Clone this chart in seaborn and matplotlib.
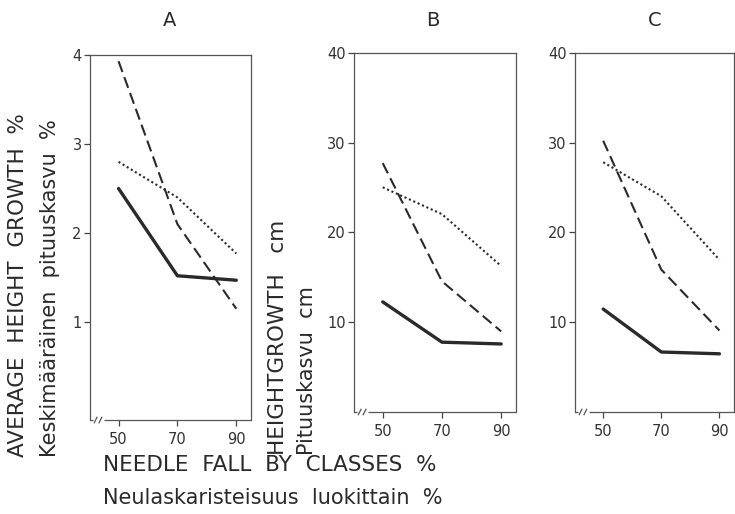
import matplotlib
matplotlib.use("Agg")
import matplotlib.pyplot as plt
import seaborn as sns
import pandas as pd

# ---- data ----
needle_fall = [50, 70, 90]
panels = ["A", "B", "C"]

a_solid = [2.50, 1.52, 1.47]
a_dashed = [3.93, 2.10, 1.15]
a_dotted = [2.80, 2.40, 1.77]

b_solid = [12.2, 7.7, 7.5]
b_dashed = [27.7, 14.5, 8.9]
b_dotted = [25.0, 22.0, 16.2]

c_solid = [11.4, 6.6, 6.4]
c_dashed = [30.2, 15.8, 9.0]
c_dotted = [27.8, 24.0, 16.9]

a_yticks = [1, 2, 3, 4]
bc_yticks = [10, 20, 30, 40]
xticks = [50, 70, 90]

sns.set_theme(style="white")
plt.rcParams["font.family"] = ["DejaVu Sans"]

W, H = 735, 514
fig = plt.figure(figsize=(W / 100, H / 100), dpi=100)

def box(l, r, t, b):
    return [l / W, 1 - b / H, (r - l) / W, (b - t) / H]

axA = fig.add_axes(box(90, 251, 55, 420))
axB = fig.add_axes(box(354, 516, 53, 412))
axC = fig.add_axes(box(575, 734, 53, 412))

ink = "#2a2a2a"
styles = {
    "solid": dict(linestyle="-", linewidth=2.4),
    "dashed": dict(linestyle=(0, (5.5, 2.6)), linewidth=1.5),
    "dotted": dict(linestyle=(0, (1, 1.3)), linewidth=1.5),
}

def draw(ax, solid, dashed, dotted, ylim, yticks):
    for name, vals in (("solid", solid), ("dashed", dashed), ("dotted", dotted)):
        df = pd.DataFrame({"x": needle_fall, "y": vals})
        sns.lineplot(data=df, x="x", y="y", ax=ax, color=ink, **styles[name])
    ax.set_xlim(40.3, 95)
    ax.set_ylim(*ylim)
    ax.set_xticks(xticks)
    ax.set_xticklabels([str(v) for v in xticks])
    ax.set_yticks(yticks)
    ax.set_yticklabels([str(v) for v in yticks])
    ax.set_xlabel("")
    ax.set_ylabel("")
    ax.tick_params(axis="both", direction="out", length=4, width=0.9,
                   colors="#444444", labelcolor="#333333", labelsize=10.5, pad=2,
                   left=True, bottom=True)
    ax.tick_params(axis="x", pad=5)
    for s in ["top", "right", "left"]:
        ax.spines[s].set_visible(True)
        ax.spines[s].set_color("#555555")
        ax.spines[s].set_linewidth(0.9)
    ax.spines["bottom"].set_visible(False)
    # bottom axis line with break mark
    kw = dict(transform=ax.transAxes, color="#555555", lw=0.9, clip_on=False,
              solid_capstyle="butt")
    ax.plot([0, 0.02], [0, 0], **kw)
    ax.plot([0.085, 1], [0, 0], **kw)
    ax.plot([0.025, 0.045], [-0.009, 0.009], **kw)
    ax.plot([0.055, 0.075], [-0.009, 0.009], **kw)

draw(axA, a_solid, a_dashed, a_dotted, (-0.1, 4.0), a_yticks)
draw(axB, b_solid, b_dashed, b_dotted, (-0.1, 40), bc_yticks)
draw(axC, c_solid, c_dashed, c_dotted, (-0.1, 40), bc_yticks)

txt = "#2a2a2a"
# panel titles
for x, lab in zip([170, 433, 655], panels):
    fig.text(x / W, 1 - 20 / H, lab, ha="center", va="center", fontsize=14, color=txt)

# y labels
fig.text(18 / W, 1 - 457 / H, "AVERAGE  HEIGHT  GROWTH  %", rotation=90,
         ha="center", va="bottom", fontsize=15.5, color=txt)
fig.text(50 / W, 1 - 457 / H, "Keskimääräinen  pituuskasvu  %", rotation=90,
         ha="center", va="bottom", fontsize=15, color=txt)
fig.text(278 / W, 1 - 455 / H, "HEIGHTGROWTH   cm", rotation=90,
         ha="center", va="bottom", fontsize=15.5, color=txt)
fig.text(307 / W, 1 - 455 / H, "Pituuskasvu  cm", rotation=90,
         ha="center", va="bottom", fontsize=15, color=txt)

# x labels
fig.text(103 / W, 1 - 465 / H, "NEEDLE  FALL  BY  CLASSES  %", ha="left",
         va="center", fontsize=15.5, color=txt)
fig.text(103 / W, 1 - 498 / H, "Neulaskaristeisuus  luokittain  %", ha="left",
         va="center", fontsize=15, color=txt)

fig.savefig("out.png", dpi=100, facecolor="white")
